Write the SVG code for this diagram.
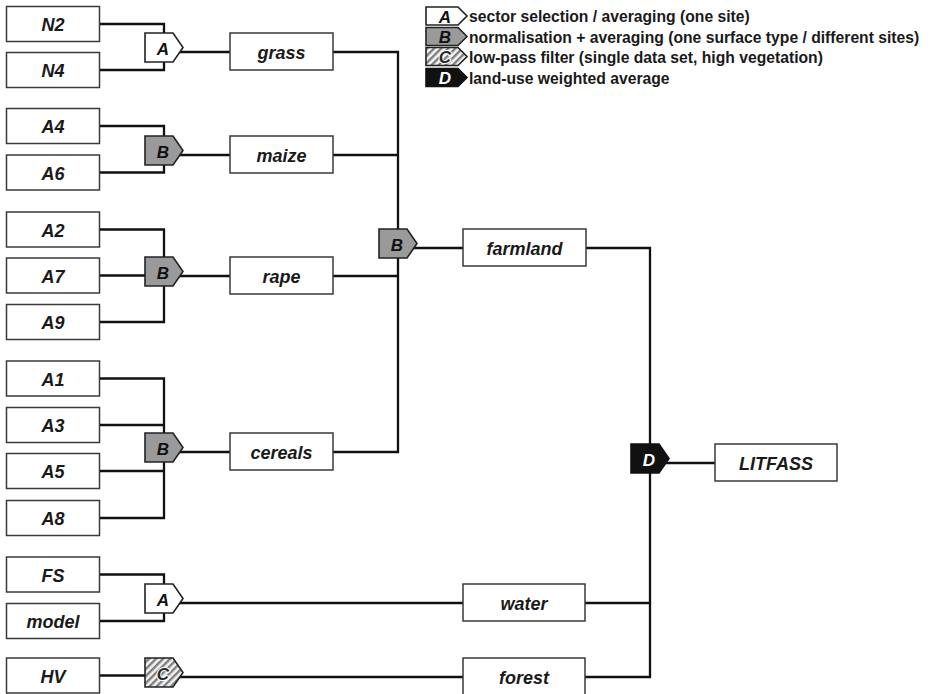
<svg xmlns="http://www.w3.org/2000/svg" width="939" height="694" viewBox="0 0 939 694">
<style>
.box{fill:#fff;stroke:#3a3a3a;stroke-width:1.5}
.lbl{font-family:"Liberation Sans",Arial,sans-serif;font-weight:bold;font-style:italic;font-size:18px;fill:#1a1a1a;text-anchor:middle}
.gl{font-family:"Liberation Sans",Arial,sans-serif;font-weight:bold;font-style:italic;font-size:17px;text-anchor:middle}
.gc{fill:#2a2a2a;stroke:#fff;stroke-width:2;paint-order:stroke}
.leg{font-family:"Liberation Sans",Arial,sans-serif;font-weight:bold;font-size:15.7px;fill:#1a1a1a}
.ln{fill:none;stroke:#111;stroke-width:2.3;stroke-linecap:square}
.gA{fill:#fff;stroke:#222;stroke-width:1.6}
.gB{fill:#9a9a9a;stroke:#222;stroke-width:1.6}
.gC{fill:url(#hatch);stroke:#222;stroke-width:1.6}
.gD{fill:#111;stroke:#111;stroke-width:1.6}
</style>
<defs>
<pattern id="hatch" width="5" height="5" patternUnits="userSpaceOnUse" patternTransform="rotate(45)">
<rect width="5" height="5" fill="#f4f4f4"/>
<rect width="2.4" height="5" fill="#7f7f7f"/>
</pattern>
</defs>

<g id="connectors">
<path class="ln" d="M100 24 H164 V70 H100"/>
<path class="ln" d="M180 52 H230"/>
<path class="ln" d="M100 126 H164 V172.5 H100"/>
<path class="ln" d="M180 155 H230"/>
<path class="ln" d="M100 229.5 H164 V322 H100 M100 275.5 H164"/>
<path class="ln" d="M180 276 H230"/>
<path class="ln" d="M100 378.5 H164 V518 H100 M100 425 H164 M100 471 H164"/>
<path class="ln" d="M180 452 H230"/>
<path class="ln" d="M333 52 H398 V452 H333 M333 155 H398 M333 276 H398"/>
<path class="ln" d="M414 248 H463"/>
<path class="ln" d="M100 574.5 H164 V621 H100"/>
<path class="ln" d="M180 603 H463"/>
<path class="ln" d="M100 675.5 H164"/>
<path class="ln" d="M180 677 H463"/>
<path class="ln" d="M586 248 H650 V677 H585 M585 603 H650"/>
<path class="ln" d="M666 463 H715"/>
</g>

<g id="N2"><rect class="box" x="6.5" y="6.5" width="93" height="35"/><text class="lbl" x="53" y="31">N2</text></g>
<g id="N4"><rect class="box" x="6.5" y="52.5" width="93" height="35"/><text class="lbl" x="53" y="77">N4</text></g>
<g id="A4"><rect class="box" x="6.5" y="108.5" width="93" height="35"/><text class="lbl" x="53" y="133">A4</text></g>
<g id="A6"><rect class="box" x="6.5" y="155" width="93" height="35"/><text class="lbl" x="53" y="179.5">A6</text></g>
<g id="A2"><rect class="box" x="6.5" y="212" width="93" height="35"/><text class="lbl" x="53" y="236.5">A2</text></g>
<g id="A7"><rect class="box" x="6.5" y="258" width="93" height="35"/><text class="lbl" x="53" y="282.5">A7</text></g>
<g id="A9"><rect class="box" x="6.5" y="304.5" width="93" height="35"/><text class="lbl" x="53" y="329">A9</text></g>
<g id="A1"><rect class="box" x="6.5" y="361" width="93" height="35"/><text class="lbl" x="53" y="385.5">A1</text></g>
<g id="A3"><rect class="box" x="6.5" y="407.5" width="93" height="35"/><text class="lbl" x="53" y="432">A3</text></g>
<g id="A5"><rect class="box" x="6.5" y="453.5" width="93" height="35"/><text class="lbl" x="53" y="478">A5</text></g>
<g id="A8"><rect class="box" x="6.5" y="500.5" width="93" height="35"/><text class="lbl" x="53" y="525">A8</text></g>
<g id="FS"><rect class="box" x="6.5" y="557" width="93" height="35"/><text class="lbl" x="53" y="581.5">FS</text></g>
<g id="model"><rect class="box" x="6.5" y="603.5" width="93" height="35"/><text class="lbl" x="53" y="628">model</text></g>
<g id="HV"><rect class="box" x="6.5" y="658" width="93" height="35"/><text class="lbl" x="53" y="682.5">HV</text></g>

<g id="gateA1"><polygon class="gA" points="145,33 173,33 183,47.5 173,62 145,62"/><text class="gl" x="163" y="54.5" fill="#111">A</text></g>
<g id="gateB1"><polygon class="gB" points="145,136 173,136 183,150.5 173,165 145,165"/><text class="gl" x="163" y="157.5" fill="#111">B</text></g>
<g id="gateB2"><polygon class="gB" points="145,257 173,257 183,271.5 173,286 145,286"/><text class="gl" x="163" y="278.5" fill="#111">B</text></g>
<g id="gateB3"><polygon class="gB" points="145,433 173,433 183,447.5 173,462 145,462"/><text class="gl" x="163" y="454.5" fill="#111">B</text></g>
<g id="gateB4"><polygon class="gB" points="379,229 407,229 417,243.5 407,258 379,258"/><text class="gl" x="397" y="250.5" fill="#111">B</text></g>
<g id="gateA2"><polygon class="gA" points="145,584 173,584 183,598.5 173,613 145,613"/><text class="gl" x="163" y="605.5" fill="#111">A</text></g>
<g id="gateC"><polygon class="gC" points="145,658 173,658 183,672.5 173,687 145,687"/><text class="gl gc" x="163" y="679.5">C</text></g>
<g id="gateD"><polygon class="gD" points="631,444 659,444 669,458.5 659,473 631,473"/><text class="gl" x="649" y="465.5" fill="#fff">D</text></g>

<g id="grass"><rect class="box" x="230" y="33" width="103" height="37"/><text class="lbl" x="281.5" y="59">grass</text></g>
<g id="maize"><rect class="box" x="230" y="136" width="103" height="37"/><text class="lbl" x="281.5" y="162">maize</text></g>
<g id="rape"><rect class="box" x="230" y="257" width="103" height="37"/><text class="lbl" x="281.5" y="283">rape</text></g>
<g id="cereals"><rect class="box" x="230" y="433" width="103" height="37"/><text class="lbl" x="281.5" y="459">cereals</text></g>
<g id="farmland"><rect class="box" x="463" y="229" width="123" height="37"/><text class="lbl" x="524.5" y="255">farmland</text></g>
<g id="water"><rect class="box" x="463" y="584" width="122" height="37"/><text class="lbl" x="524" y="610">water</text></g>
<g id="forest"><rect class="box" x="463" y="658" width="122" height="37"/><text class="lbl" x="524" y="684">forest</text></g>
<g id="LITFASS"><rect class="box" x="715" y="444" width="122" height="37"/><text class="lbl" x="776" y="470">LITFASS</text></g>

<g id="legend">
<polygon class="gA" points="426,7 458,7 467,16 458,25 426,25"/><text class="gl" x="445" y="22.5" fill="#111">A</text>
<text class="leg" x="469" y="22">sector selection / averaging (one site)</text>
<polygon class="gB" points="426,27.5 458,27.5 467,36.5 458,45.5 426,45.5"/><text class="gl" x="445" y="43" fill="#111">B</text>
<text class="leg" x="469" y="42.5">normalisation + averaging (one surface type / different sites)</text>
<polygon class="gC" points="426,47.5 458,47.5 467,56.5 458,65.5 426,65.5"/><text class="gl gc" x="445" y="63">C</text>
<text class="leg" x="469" y="63">low-pass filter (single data set, high vegetation)</text>
<polygon class="gD" points="426,68.5 458,68.5 467,77.5 458,86.5 426,86.5"/><text class="gl" x="445" y="84" fill="#fff">D</text>
<text class="leg" x="469" y="83.5">land-use weighted average</text>
</g>
</svg>
